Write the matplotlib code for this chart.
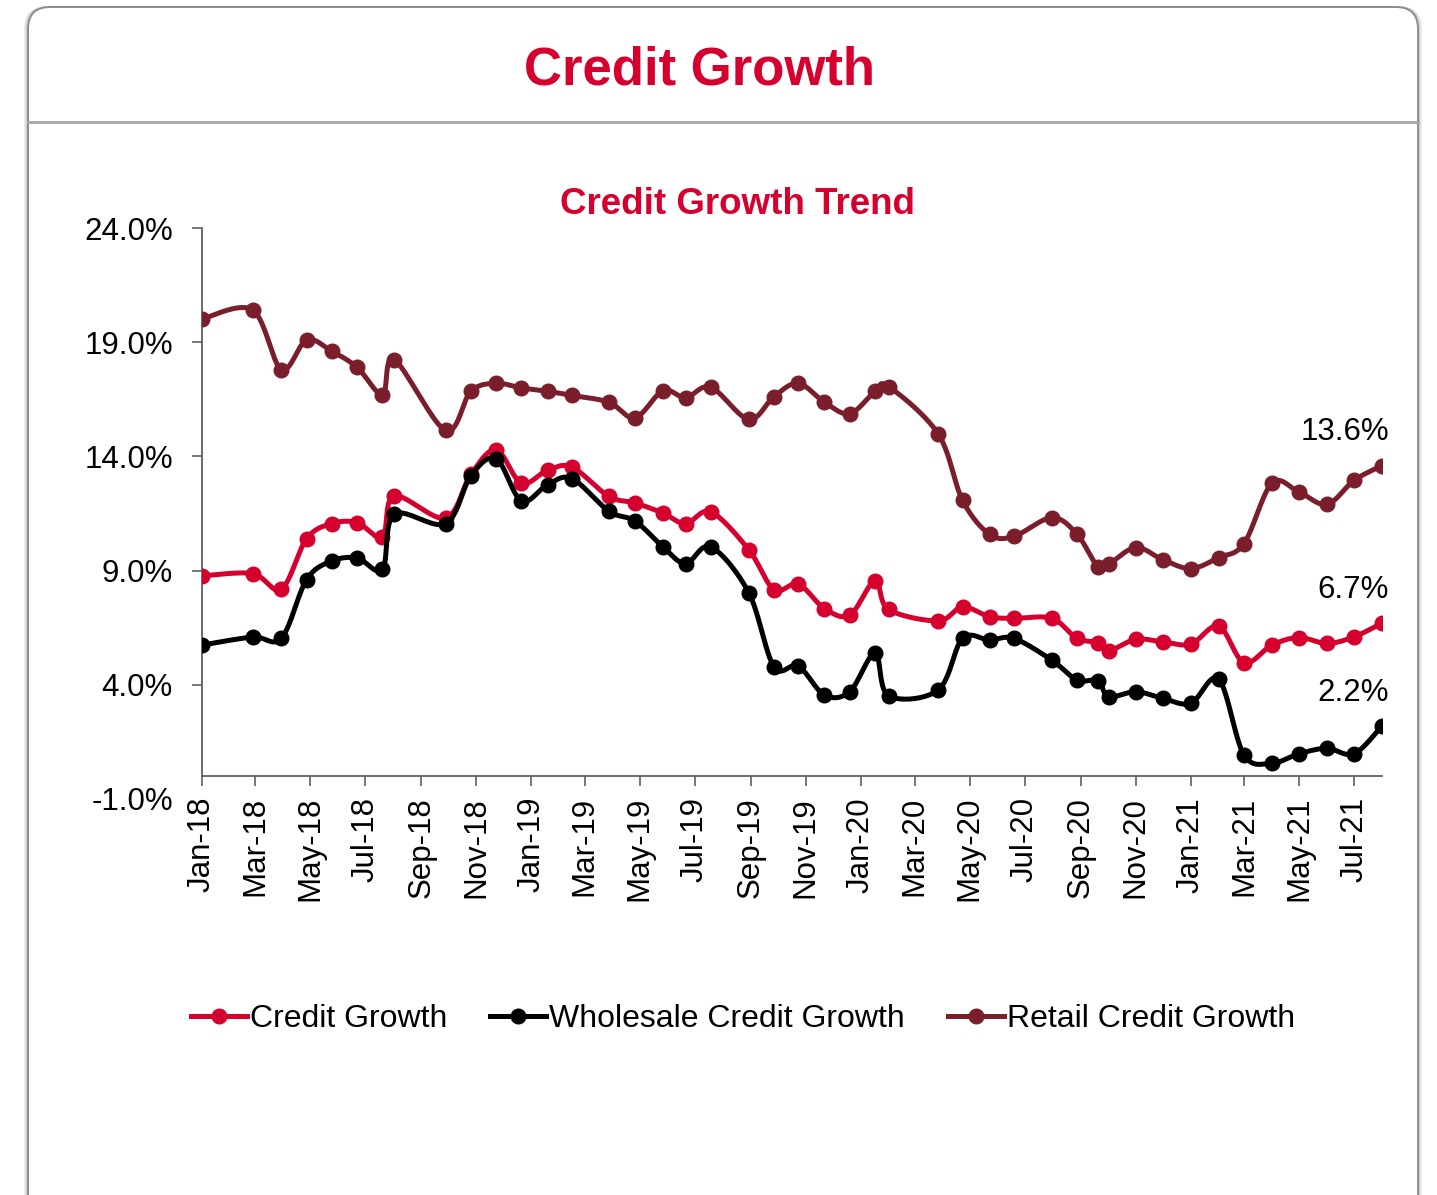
import numpy as np
import pandas as pd
import matplotlib
matplotlib.use("Agg")
import matplotlib.pyplot as plt
import matplotlib.dates as mdates
from matplotlib.patches import FancyBboxPatch
from matplotlib.lines import Line2D

plt.rcParams['font.family'] = ['Liberation Sans', 'DejaVu Sans']

# reporting dates
dates = ['2018-01-01', '2018-02-26', '2018-03-30', '2018-04-27', '2018-05-25', '2018-06-22',
         '2018-07-20', '2018-08-02', '2018-09-28', '2018-10-26', '2018-11-23', '2018-12-21',
         '2019-01-19', '2019-02-15', '2019-03-28', '2019-04-26', '2019-05-27', '2019-06-21',
         '2019-07-19', '2019-08-30', '2019-09-27', '2019-10-24', '2019-11-22', '2019-12-20',
         '2020-01-17', '2020-02-01', '2020-03-27', '2020-04-23', '2020-05-23', '2020-06-19',
         '2020-07-31', '2020-08-28', '2020-09-20', '2020-10-02', '2020-11-01', '2020-12-01',
         '2021-01-01', '2021-02-01', '2021-03-01', '2021-04-01', '2021-05-01', '2021-06-01',
         '2021-07-01', '2021-08-01']

credit = [8.77, 8.87, 8.19, 10.40, 11.06, 11.10, 10.47, 12.27, 11.30, 13.21, 14.29, 12.83,
          13.39, 13.53, 12.25, 11.96, 11.52, 11.06, 11.57, 9.92, 8.17, 8.41, 7.34, 7.05,
          8.55, 7.30, 6.80, 7.41, 6.98, 6.91, 6.91, 6.03, 5.85, 5.49, 5.99, 5.88,
          5.78, 6.57, 4.97, 5.74, 6.07, 5.81, 6.10, 6.70]

wholesale = [5.74, 6.09, 6.04, 8.61, 9.42, 9.55, 9.05, 11.46, 11.06, 13.15, 13.90, 12.05,
             12.76, 13.03, 11.60, 11.17, 10.04, 9.31, 10.04, 8.04, 4.79, 4.82, 3.55, 3.70,
             5.38, 3.52, 3.77, 6.03, 5.96, 6.03, 5.08, 4.21, 4.18, 3.48, 3.70, 3.41,
             3.19, 4.24, 0.93, 0.57, 0.98, 1.22, 0.98, 2.20]

retail = [20.02, 20.41, 17.80, 19.10, 18.60, 17.90, 16.71, 18.24, 15.14, 16.85, 17.20, 17.00,
          16.85, 16.67, 16.37, 15.69, 16.88, 16.57, 17.03, 15.62, 16.62, 17.20, 16.37, 15.87,
          16.85, 17.06, 14.99, 12.08, 10.59, 10.50, 11.32, 10.59, 9.17, 9.28, 10.01, 9.48,
          9.09, 9.57, 10.18, 12.83, 12.44, 11.90, 12.95, 13.60]

series_names = ['Credit Growth', 'Wholesale Credit Growth', 'Retail Credit Growth']
series_colors = ['#D6002F', '#000000', '#7A1E2C']
y_ticks = [-1, 4, 9, 14, 19, 24]

RED = '#D6002F'


def smooth(x, y, n=24):
    # bezier smoothing through every point (excel style "smoothed line")
    x = np.asarray(x, float)
    y = np.asarray(y, float)
    px = np.concatenate([[x[0]], x, [x[-1]]])
    py = np.concatenate([[y[0]], y, [y[-1]]])
    xs, ys = [], []
    t = np.linspace(0, 1, n)
    for i in range(1, len(px) - 2):
        p0 = np.array([px[i], py[i]])
        p3 = np.array([px[i + 1], py[i + 1]])
        p1 = p0 + (np.array([px[i + 1], py[i + 1]]) - np.array([px[i - 1], py[i - 1]])) / 6
        p2 = p3 - (np.array([px[i + 2], py[i + 2]]) - np.array([px[i], py[i]])) / 6
        b = ((1 - t) ** 3)[:, None] * p0 + (3 * (1 - t) ** 2 * t)[:, None] * p1 \
            + (3 * (1 - t) * t ** 2)[:, None] * p2 + (t ** 3)[:, None] * p3
        xs.append(b[:, 0])
        ys.append(b[:, 1])
    return np.concatenate(xs), np.concatenate(ys)


W, H = 1437, 1195
fig = plt.figure(figsize=(W / 100, H / 100), dpi=100)

# card background, drawn in pixel units
bg = fig.add_axes([0, 0, 1, 1], zorder=0)
bg.set_xlim(0, W)
bg.set_ylim(H, 0)
bg.axis('off')
for off, col in [(3, '#e6e6e6'), (1.5, '#d0d0d0')]:
    bg.add_patch(FancyBboxPatch((28 - off, 7), 1390 + 2 * off, 1300,
                                boxstyle='round,pad=0,rounding_size=22',
                                fc='none', ec=col, lw=1.2))
bg.add_patch(FancyBboxPatch((28, 7), 1390, 1300, boxstyle='round,pad=0,rounding_size=22',
                            fc='white', ec='#8c8c8c', lw=1.4))
bg.plot([28, 1418], [122, 122], color='#a6a6a6', lw=2.0)
bg.text(699, 70, 'Credit Growth', ha='center', va='center', color=RED,
        fontsize=38, fontweight='bold')
bg.text(738, 204, 'Credit Growth Trend', ha='center', va='center', color=RED,
        fontsize=26.5, fontweight='bold')

# chart
x_left, x_right, y_top, y_bot = 202, 1382, 228, 799
ax = fig.add_axes([x_left / W, 1 - y_bot / H, (x_right - x_left) / W, (y_bot - y_top) / H],
                  zorder=1)
ax.patch.set_alpha(0)

x = pd.to_datetime(dates)
xn = mdates.date2num(x)
for vals, name, col in zip([credit, wholesale, retail], series_names, series_colors):
    sx, sy = smooth(xn, vals)
    ax.plot(sx, sy, color=col, lw=3.6, solid_capstyle='round', zorder=3)
    ax.plot(xn, vals, 'o', color=col, ms=10.5, zorder=3)
    ax.annotate(f'{vals[-1]:.1f}%', (xn[-1], vals[-1]), xytext=(5, 24),
                textcoords='offset points', ha='right', va='center',
                fontsize=22.5, color='black')

ax.set_xlim(mdates.date2num(pd.Timestamp('2018-01-01')), mdates.date2num(pd.Timestamp('2021-08-01')))
ax.set_ylim(-1, 24)
ax.set_yticks(y_ticks)
ax.set_yticklabels([f'{v:.1f}%' for v in y_ticks])

ax.xaxis.set_major_locator(mdates.MonthLocator(bymonth=[1, 3, 5, 7, 9, 11]))
ax.xaxis.set_major_formatter(mdates.DateFormatter('%b-%y'))

ax.spines['top'].set_visible(False)
ax.spines['right'].set_visible(False)
ax.spines['bottom'].set_position(('data', 0))
ax.spines['left'].set_bounds(0, 24)
for sp in ['left', 'bottom']:
    ax.spines[sp].set_color('#606060')
    ax.spines[sp].set_linewidth(1.3)
ax.tick_params(axis='y', direction='out', length=7, width=1.2, color='#606060',
               labelsize=22.5, pad=14)
ax.tick_params(axis='x', direction='out', length=7, width=1.2, color='#606060',
               labelsize=22.5, pad=8, labelrotation=90)
ax.yaxis.get_major_ticks()[0].tick1line.set_visible(False)

handles = [Line2D([], [], color=c, lw=3.6, marker='o', ms=10.5) for c in series_colors]
fig.legend(handles, series_names, loc='center', bbox_to_anchor=(743 / W, 1 - 1019 / H),
           ncol=3, frameon=False, fontsize=23, handlelength=1.75, handletextpad=0.1,
           columnspacing=1.35)

fig.savefig('out.png', dpi=100)
